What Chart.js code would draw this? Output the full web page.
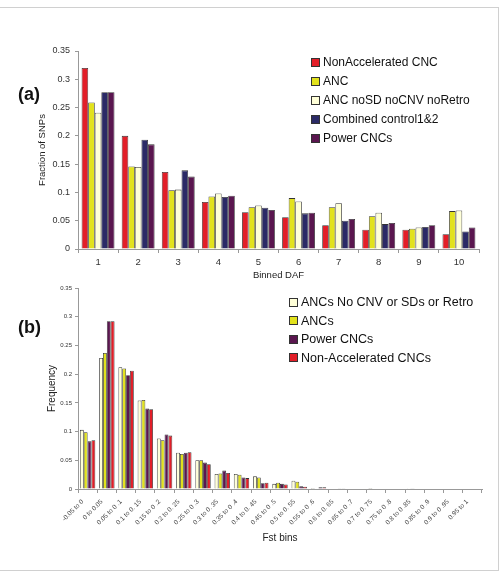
<!DOCTYPE html>
<html>
<head>
<meta charset="utf-8">
<script src="https://cdn.jsdelivr.net/npm/chart.js@4.4.1/dist/chart.umd.min.js"></script>
<style>
body { margin: 0; background: #fff; font-family: "Liberation Sans", Arial, sans-serif; }
#wrap { position: relative; width: 500px; height: 578px; overflow: hidden; }
#frame { position: absolute; left: 0; top: 7px; width: 499px; height: 564px; box-sizing: border-box; border: 1px solid #d0d0d0; border-left: none; }
.panel { position: absolute; left: 0; }
.tag { position: absolute; font-weight: bold; font-size: 18px; color: #111; }
.legend { position: absolute; color: #111; }
.legend div { position: relative; padding-left: 12px; white-space: nowrap; }
.legend span { position: absolute; left: 0; width: 7px; height: 7px; border: 1px solid #333; }
</style>
</head>
<body>
<div id="wrap">
  <div id="frame"></div>
  <div class="panel" style="top:0px;"><canvas id="dafChart" width="500" height="290"></canvas></div>
  <div class="panel" style="top:280px;"><canvas id="fstChart" width="500" height="298"></canvas></div>
  <div class="tag" style="left:18px; top:84px;">(a)</div>
  <div class="tag" style="left:18px; top:317px;">(b)</div>
  <div class="legend" id="dafLegend" style="left:311px; top:53px; font-size:12px;"></div>
  <div class="legend" id="fstLegend" style="left:289px; top:293px; font-size:12.5px;"></div>
</div>
<script>
// (a) Binned DAF
var dafLabels = ['1', '2', '3', '4', '5', '6', '7', '8', '9', '10'];
var nonAccCnc  = [0.320, 0.200, 0.136, 0.083, 0.065, 0.056, 0.042, 0.034, 0.034, 0.026];
var anc        = [0.259, 0.146, 0.104, 0.093, 0.074, 0.090, 0.074, 0.058, 0.036, 0.067];
var ancNoSd    = [0.241, 0.145, 0.105, 0.098, 0.077, 0.084, 0.081, 0.064, 0.038, 0.068];
var combined   = [0.277, 0.193, 0.139, 0.092, 0.073, 0.063, 0.050, 0.044, 0.039, 0.031];
var powerCnc   = [0.277, 0.185, 0.128, 0.094, 0.069, 0.064, 0.053, 0.046, 0.042, 0.038];

// (b) Fst bins
var fstBins = ['-0.05 to 0', '0 to 0.05', '0.05 to 0 .1', '0.1 to 0. 15', '0.15 to 0 .2',
    '0.2 to 0. 25', '0.25 to 0 .3', '0.3 to 0. 35', '0.35 to 0 .4', '0.4 to 0. 45',
    '0.45 to 0 .5', '0.5 to 0. 55', '0.55 to 0 .6', '0.6 to 0. 65', '0.65 to 0 .7',
    '0.7 to 0. 75', '0.75 to 0 .8', '0.8 to 0 .85', '0.85 to 0 .9', '0.9 to 0 .95', '0.95 to 1'];
var ancsNoCnv   = [0.103, 0.228, 0.212, 0.154, 0.088, 0.063, 0.050, 0.026, 0.026, 0.022, 0.009, 0.0145, 0.0017, 0, 0, 0.0017, 0, 0.0015, 0, 0, 0];
var ancs        = [0.099, 0.237, 0.210, 0.155, 0.085, 0.061, 0.050, 0.027, 0.025, 0.020, 0.011, 0.0128, 0.001, 0, 0, 0.001, 0, 0.0005, 0, 0, 0];
var powerCncs   = [0.083, 0.292, 0.198, 0.140, 0.095, 0.063, 0.046, 0.032, 0.020, 0.010, 0.009, 0.0046, 0.003, 0.0012, 0.0008, 0.001, 0, 0.001, 0, 0, 0];
var nonAccCncs  = [0.085, 0.292, 0.206, 0.139, 0.093, 0.064, 0.043, 0.028, 0.019, 0.011, 0.008, 0.004, 0.003, 0.0006, 0, 0.001, 0, 0, 0, 0, 0];

var yTicks = [0, 0.05, 0.1, 0.15, 0.2, 0.25, 0.3, 0.35];

var RED = '#e21e28', YELLOW = '#e2e21c', CREAM = '#ffffd8', NAVY = '#2b2a66', PURPLE = '#5a164f';

function makeSet(label, data, color)  {
    return { label: label, data: data, backgroundColor: color, borderColor: '#333', borderWidth: 0.8,
             categoryPercentage: 0.82, barPercentage: 1.0 };
}

function fillLegend(id, sets, rowH) {
    var box = document.getElementById(id);
    sets.forEach(function(s) {
        var row = document.createElement('div');
        row.style.height = rowH + 'px';
        row.style.lineHeight = rowH + 'px';
        var sq = document.createElement('span');
        sq.style.background = s.backgroundColor;
        sq.style.top = ((rowH - 9) / 2) + 'px';
        row.appendChild(sq);
        row.appendChild(document.createTextNode(s.label));
        box.appendChild(row);
    });
}

function yScale(title, tickFont, tickPad, width, titlePad, titleSize) {
    return {
        min: 0, max: 0.35,
        afterBuildTicks: function(scale) { scale.ticks = yTicks.map(function(v) { return { value: v }; }); },
        afterFit: function(scale) { scale.width = width; },
        ticks: { font: { size: tickFont, family: 'Liberation Sans' }, color: '#333', padding: tickPad,
                 callback: function(v) { return String(+v.toFixed(2)); } },
        grid: { drawOnChartArea: false, drawTicks: true, tickLength: 3, color: '#999' },
        border: { color: '#999' },
        title: { display: true, text: title, color: '#222', padding: { top: titlePad },
                 font: { size: titleSize, family: 'Liberation Sans' } }
    };
}

var dafSets = [
    makeSet('NonAccelerated CNC', nonAccCnc, RED),
    makeSet('ANC', anc, YELLOW),
    makeSet('ANC noSD noCNV noRetro', ancNoSd, CREAM),
    makeSet('Combined control1&2', combined, NAVY),
    makeSet('Power CNCs', powerCnc, PURPLE)
];

new Chart(document.getElementById('dafChart').getContext('2d'), {
    type: 'bar',
    data: { labels: dafLabels, datasets: dafSets },
    options: {
        responsive: false,
        animation: false,
        layout: { padding: { top: 51, right: 21, bottom: 5, left: 0 } },
        plugins: { legend: { display: false }, tooltip: { enabled: false } },
        scales: {
            x: {
                afterFit: function(scale) { scale.height = 36; },
                ticks: { font: { size: 9.5, family: 'Liberation Sans' }, color: '#333', padding: 4 },
                grid: { drawOnChartArea: false, drawTicks: true, tickLength: 4, color: '#999' },
                border: { color: '#999' },
                title: { display: true, text: 'Binned DAF', color: '#222', padding: { bottom: 4 },
                         font: { size: 9.5, family: 'Liberation Sans' } }
            },
            y: yScale('Fraction of SNPs', 9, 5, 78, 37, 9.5)
        }
    }
});
fillLegend('dafLegend', dafSets, 19);

var fstSets = [
    makeSet('ANCs No CNV or SDs or Retro', ancsNoCnv, CREAM),
    makeSet('ANCs', ancs, YELLOW),
    makeSet('Power CNCs', powerCncs, PURPLE),
    makeSet('Non-Accelerated CNCs', nonAccCncs, RED)
];
fstSets.forEach(function(s) { s.categoryPercentage = 0.8; });

new Chart(document.getElementById('fstChart').getContext('2d'), {
    type: 'bar',
    data: { labels: fstBins, datasets: fstSets },
    options: {
        responsive: false,
        animation: false,
        layout: { padding: { top: 8, right: 18, bottom: 20, left: 0 } },
        plugins: { legend: { display: false }, tooltip: { enabled: false } },
        scales: {
            x: {
                afterFit: function(scale) { scale.height = 69; },
                ticks: { font: { size: 6.5, family: 'Liberation Sans' }, color: '#444', padding: 5,
                         autoSkip: false, maxRotation: 45, minRotation: 45, labelOffset: -5 },
                grid: { drawOnChartArea: false, drawTicks: true, tickLength: 4, color: '#999' },
                border: { color: '#999' },
                title: { display: true, text: 'Fst bins', color: '#222', padding: { bottom: 14 },
                         font: { size: 10, family: 'Liberation Sans' } }
            },
            y: yScale('Frequency', 6, 3, 78, 46, 10)
        }
    }
});
fillLegend('fstLegend', fstSets, 18.5);
</script>
</body>
</html>
